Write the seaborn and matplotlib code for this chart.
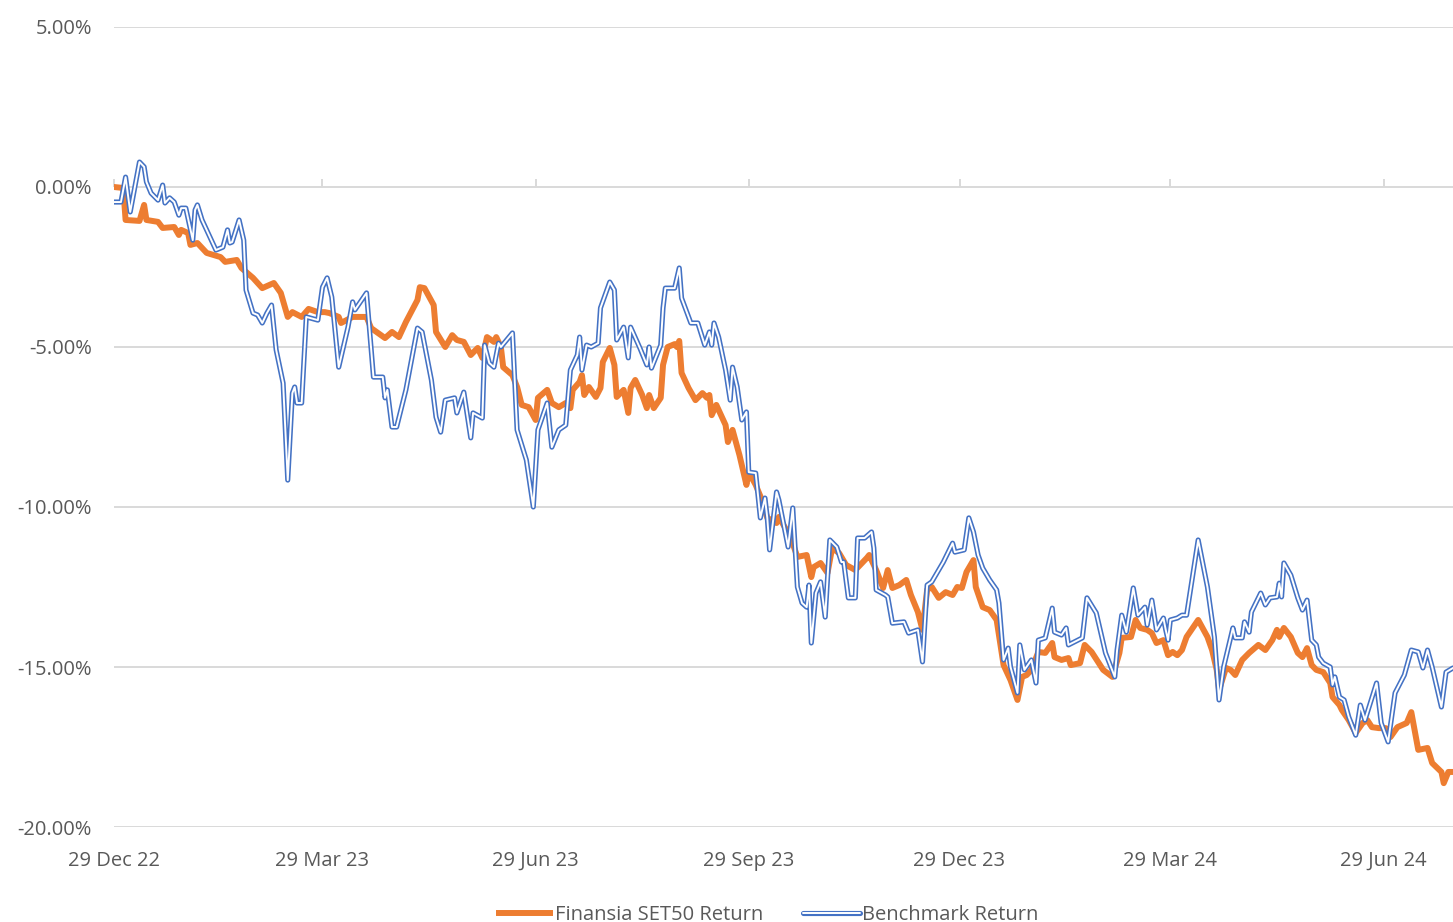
import matplotlib
matplotlib.use("Agg")
import matplotlib.pyplot as plt
import matplotlib.dates as mdates
from matplotlib.ticker import PercentFormatter
import pandas as pd
import seaborn as sns

# days since 29 Dec 2022 and cumulative return in %
fund_day = [0, 4, 5, 11, 13, 14, 19, 21, 26, 28, 29, 32, 33, 36, 40, 46, 48, 53, 55, 60,
            64, 69, 72, 75, 77, 81, 84, 88, 91, 93, 97, 98, 103, 109, 111, 117, 120, 123, 126, 131,
            132, 134, 138, 139, 143, 146, 148, 151, 154, 157, 159, 161, 164, 165, 167, 168, 172, 174, 176, 179,
            182, 183, 187, 189, 192, 195, 197, 198, 201, 202, 203, 205, 208, 210, 211, 214, 216, 217, 220, 222,
            223, 225, 228, 230, 231, 233, 236, 237, 239, 242, 243, 244, 245, 248, 251, 254, 256, 257, 258, 260,
            264, 265, 267, 270, 273, 274, 277, 280, 282, 286, 287, 292, 295, 299, 301, 302, 305, 308, 310, 313,
            316, 320, 325, 326, 329, 332, 334, 336, 339, 342, 344, 347, 349, 351, 353, 356, 359, 362, 364, 366,
            368, 371, 372, 375, 378, 381, 384, 387, 390, 392, 394, 396, 399, 402, 405, 406, 409, 412, 413, 417,
            419, 422, 427, 431, 434, 435, 439, 441, 443, 446, 448, 450, 453, 455, 457, 459, 461, 463, 468, 472,
            474, 476, 477, 480, 482, 484, 487, 490, 494, 497, 500, 502, 503, 505, 508, 511, 513, 515, 517, 519,
            522, 525, 526, 529, 530, 533, 536, 539, 541, 543, 546, 549, 551, 554, 558, 560, 563, 567, 569, 573,
            574, 576, 578]
fund_ret = [0.00, -0.03, -1.03, -1.06, -0.56, -1.03, -1.09, -1.28, -1.25, -1.50, -1.34, -1.44, -1.81, -1.75, -2.06, -2.19, -2.34, -2.28, -2.53, -2.84,
            -3.16, -3.00, -3.31, -4.06, -3.91, -4.06, -3.81, -3.91, -3.91, -3.94, -4.06, -4.25, -4.06, -4.06, -4.41, -4.72, -4.53, -4.69, -4.22, -3.53,
            -3.13, -3.16, -3.69, -4.53, -5.00, -4.63, -4.78, -4.84, -5.25, -5.03, -5.34, -4.69, -4.84, -4.69, -5.00, -5.63, -5.88, -6.25, -6.81, -6.88,
            -7.28, -6.59, -6.34, -6.75, -6.88, -6.75, -6.91, -6.34, -6.09, -5.88, -6.50, -6.25, -6.56, -6.28, -5.47, -5.03, -5.56, -6.56, -6.34, -7.06,
            -6.28, -6.03, -6.50, -6.91, -6.50, -6.91, -6.59, -5.56, -5.00, -4.91, -5.00, -4.81, -5.81, -6.28, -6.66, -6.44, -6.59, -6.50, -7.13, -6.81,
            -7.44, -7.97, -7.59, -8.38, -9.31, -8.91, -9.31, -9.84, -10.34, -10.50, -10.31, -10.94, -11.56, -11.50, -12.19, -11.88, -11.75, -12.06, -11.28, -11.44,
            -11.81, -11.97, -11.59, -11.50, -11.97, -12.53, -11.97, -12.53, -12.44, -12.28, -12.75, -13.28, -13.84, -12.59, -12.50, -12.84, -12.66, -12.75, -12.50, -12.53,
            -12.03, -11.66, -12.50, -13.13, -13.22, -13.53, -14.94, -15.41, -16.03, -15.31, -15.25, -15.09, -14.53, -14.56, -14.25, -14.69, -14.78, -14.72, -14.94, -14.88,
            -14.31, -14.53, -15.09, -15.31, -14.56, -14.09, -14.06, -13.53, -13.78, -13.84, -13.94, -14.25, -14.16, -14.63, -14.53, -14.63, -14.47, -14.06, -13.53, -14.06,
            -14.47, -15.09, -15.72, -15.03, -15.09, -15.25, -14.78, -14.56, -14.31, -14.47, -14.16, -13.84, -14.06, -13.78, -14.06, -14.56, -14.69, -14.41, -14.94, -15.09,
            -15.16, -15.50, -15.94, -16.19, -16.34, -16.66, -17.06, -16.75, -16.66, -16.88, -16.91, -16.91, -17.19, -16.88, -16.75, -16.41, -17.59, -17.53, -18.00, -18.28,
            -18.63, -18.28, -18.28]

bench_day = [0, 3, 5, 7, 11, 13, 14, 16, 19, 21, 22, 24, 26, 28, 29, 31, 34, 35, 36, 38,
             41, 44, 47, 49, 50, 51, 54, 56, 57, 60, 62, 64, 66, 68, 70, 73, 75, 77, 78, 79,
             81, 83, 88, 90, 92, 94, 97, 101, 103, 104, 109, 112, 116, 117, 118, 120, 122, 126, 131, 133,
             137, 139, 141, 143, 147, 148, 151, 154, 155, 159, 160, 162, 164, 166, 167, 172, 174, 178, 181, 183,
             187, 189, 192, 195, 197, 200, 201, 202, 204, 206, 209, 210, 214, 216, 217, 220, 222, 223, 227, 230,
             231, 232, 236, 237, 238, 242, 244, 245, 249, 252, 255, 257, 258, 259, 261, 264, 266, 267, 269, 271,
             273, 274, 277, 279, 281, 282, 283, 286, 287, 291, 293, 295, 297, 299, 300, 301, 303, 305, 307, 309,
             312, 314, 315, 317, 320, 321, 324, 327, 328, 329, 333, 334, 336, 341, 343, 347, 349, 351, 353, 358,
             362, 363, 367, 369, 371, 373, 375, 378, 381, 382, 384, 386, 387, 390, 391, 393, 396, 398, 399, 402,
             405, 406, 409, 411, 412, 418, 420, 424, 428, 432, 433, 435, 437, 440, 442, 445, 446, 448, 450, 453,
             454, 455, 456, 459, 461, 463, 468, 472, 475, 477, 479, 483, 484, 487, 488, 490, 491, 495, 497, 499,
             502, 503, 504, 505, 508, 511, 513, 515, 517, 519, 520, 522, 525, 526, 527, 529, 531, 533, 536, 538,
             540, 545, 547, 550, 553, 557, 560, 563, 565, 567, 569, 573, 575, 578]
bench_ret = [-0.47, -0.47, 0.31, -0.78, 0.78, 0.63, 0.16, -0.19, -0.41, 0.06, -0.50, -0.34, -0.47, -0.88, -0.66, -0.66, -1.66, -0.72, -0.56, -1.03,
             -1.50, -1.97, -1.88, -1.34, -1.75, -1.72, -1.03, -1.66, -3.22, -3.94, -4.00, -4.25, -3.94, -3.69, -5.09, -6.13, -9.16, -6.44, -6.25, -6.75,
             -6.75, -4.06, -4.16, -3.13, -2.84, -3.44, -5.63, -4.38, -3.59, -3.84, -3.31, -5.94, -5.94, -6.59, -6.34, -7.50, -7.50, -6.34, -4.41, -4.53,
             -6.03, -7.19, -7.66, -6.66, -6.59, -7.06, -6.41, -7.84, -7.06, -7.22, -4.94, -5.50, -5.63, -4.88, -5.00, -4.56, -7.59, -8.53, -10.00, -7.59,
             -6.75, -8.13, -7.59, -7.44, -5.72, -5.25, -4.69, -5.72, -4.94, -5.00, -4.88, -3.78, -2.97, -3.22, -4.78, -4.38, -5.34, -4.38, -5.03, -5.56,
             -5.00, -5.66, -4.94, -3.78, -3.16, -3.16, -2.53, -3.47, -4.25, -4.25, -4.94, -4.53, -4.94, -4.25, -4.69, -5.72, -6.66, -5.63, -6.25, -7.28,
             -7.03, -8.91, -8.94, -10.34, -9.72, -10.34, -11.34, -9.53, -9.78, -11.25, -10.03, -12.50, -13.00, -13.13, -12.44, -14.25, -12.69, -12.34, -13.44, -11.03,
             -11.25, -11.72, -11.72, -12.84, -12.84, -10.97, -10.97, -10.78, -11.28, -12.59, -12.75, -12.81, -13.63, -13.59, -13.94, -13.84, -14.84, -12.44, -12.34, -11.72,
             -11.13, -11.41, -11.34, -10.34, -10.78, -11.50, -11.91, -12.28, -12.59, -13.00, -14.78, -14.41, -15.00, -15.81, -14.31, -15.09, -14.78, -15.50, -14.16, -14.09,
             -13.16, -13.91, -14.00, -13.78, -14.31, -14.09, -12.84, -13.31, -14.56, -15.31, -14.47, -13.38, -13.91, -12.53, -13.38, -13.13, -13.69, -12.91, -13.84, -13.47,
             -13.84, -14.16, -13.53, -13.47, -13.38, -13.38, -11.03, -12.50, -14.06, -16.03, -15.00, -13.78, -14.09, -14.09, -13.59, -13.91, -13.28, -12.69, -13.06, -12.84,
             -12.81, -12.38, -12.81, -11.75, -12.13, -12.84, -13.22, -12.91, -14.16, -14.31, -14.69, -14.88, -15.00, -15.56, -15.31, -15.94, -16.03, -16.56, -17.13, -16.19,
             -16.66, -15.50, -16.75, -17.34, -15.81, -15.25, -14.47, -14.53, -15.03, -14.47, -15.00, -16.25, -15.16, -15.03]

tick_dates = ["2022-12-29", "2023-03-29", "2023-06-29", "2023-09-29", "2023-12-29", "2024-03-29", "2024-06-29"]
fund_label = "Finansia SET50 Return"
bench_label = "Benchmark Return"

start = pd.Timestamp("2022-12-29")
fund = pd.DataFrame({"date": start + pd.to_timedelta(fund_day, unit="D"), "ret": fund_ret})
bench = pd.DataFrame({"date": start + pd.to_timedelta(bench_day, unit="D"), "ret": bench_ret})

sns.set_theme(style="white")
plt.rcParams["font.family"] = ["Open Sans", "DejaVu Sans"]
plt.rcParams["axes.unicode_minus"] = False

text_col = "#595959"
grid_col = "#D9D9D9"
orange = "#ED7D31"
blue = "#4472C4"
fs = 14.5

fig = plt.figure(figsize=(14.53, 9.22), dpi=100)
ax = fig.add_axes([114 / 1453, 1 - 827 / 922, 1 - 114 / 1453, (827 - 27) / 922])

sns.lineplot(data=fund, x="date", y="ret", ax=ax, color=orange, linewidth=4.3,
             estimator=None, sort=False, solid_joinstyle="round", solid_capstyle="round", zorder=3)
sns.lineplot(data=bench, x="date", y="ret", ax=ax, color=blue, linewidth=3.7,
             estimator=None, sort=False, solid_joinstyle="round", zorder=4)
sns.lineplot(data=bench, x="date", y="ret", ax=ax, color="white", linewidth=1.4,
             estimator=None, sort=False, solid_joinstyle="round", zorder=5)

ax.set_ylim(-20, 5)
ax.set_xlim(start, start + pd.Timedelta(days=578))
ax.set_yticks([5, 0, -5, -10, -15, -20])
ax.yaxis.set_major_formatter(PercentFormatter(xmax=100, decimals=2))
ax.grid(axis="y", color=grid_col, linewidth=1.4)
ax.grid(axis="x", visible=False)
for s in ax.spines.values():
    s.set_visible(False)
ax.set_xlabel("")
ax.set_ylabel("")

ticks = pd.to_datetime(tick_dates)
ax.set_xticks(ticks)
ax.xaxis.set_major_formatter(mdates.DateFormatter("%d %b %y"))
ax.tick_params(axis="x", length=0, pad=17, labelsize=fs, labelcolor=text_col)
ax.tick_params(axis="y", length=0, pad=16, labelsize=fs, labelcolor=text_col)

# horizontal axis line crosses at 0% with tick marks below it
sec = ax.secondary_xaxis(0.8)
sec.set_xticks(ticks)
sec.tick_params(axis="x", direction="out", length=6, width=1.4, color=grid_col, labelbottom=False, labeltop=False)
sec.spines["bottom"].set_visible(False)
sec.spines["top"].set_visible(False)

h_fund, = ax.plot([], [], color=orange, linewidth=4.3, solid_capstyle="butt")
h_out, = ax.plot([], [], color=blue, linewidth=3.7)
h_in, = ax.plot([], [], color="white", linewidth=1.4)
fig.legend([h_fund, (h_out, h_in)], [fund_label, bench_label], loc="center",
           bbox_to_anchor=(0.528, 0.008), ncol=2, frameon=False, fontsize=fs,
           labelcolor=text_col, handlelength=2.8, handletextpad=0.1, columnspacing=2.0)

fig.savefig("out.png", dpi=100)
